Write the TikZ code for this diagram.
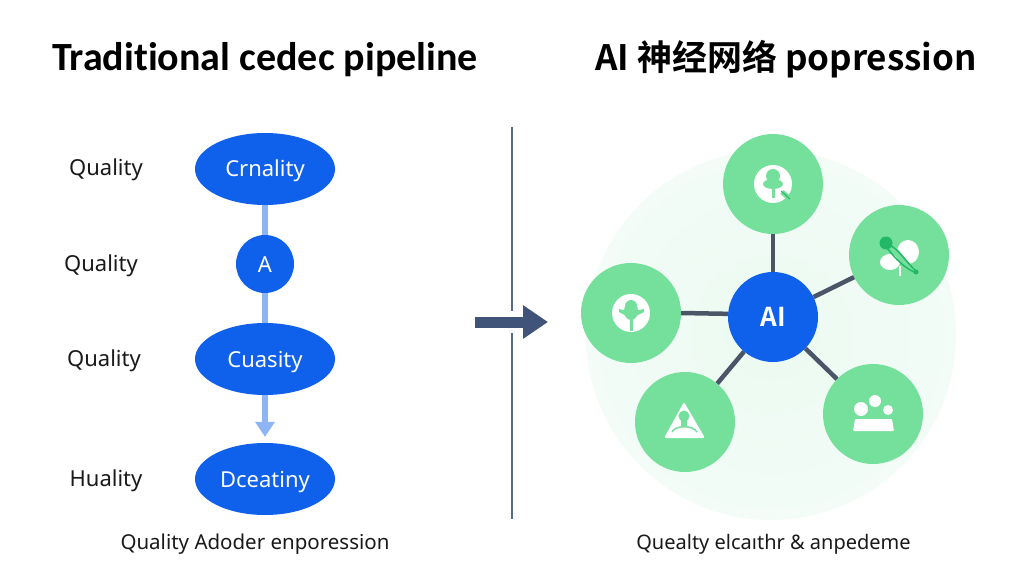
\documentclass[tikz,border=0pt]{standalone}
\usepackage{fontspec}
\setmainfont{Noto Sans}
\newfontfamily\cjktitle{Noto Sans CJK SC}[BoldFont={Noto Sans CJK SC Bold}]
\newfontfamily\lefthead{Carlito}[Ligatures=NoCommon]
\usetikzlibrary{shapes.geometric,arrows.meta}
\definecolor{nodeblue}{HTML}{0F60EA}
\definecolor{linkblue}{HTML}{8DB4F5}
\definecolor{leafgreen}{HTML}{74E09B}
\definecolor{darkgreen}{HTML}{22B868}
\definecolor{palegreen}{HTML}{EBFAF1}
\definecolor{paleedge}{HTML}{F3FCF7}
\definecolor{spokegray}{HTML}{4A5568}
\definecolor{rulegray}{HTML}{5A6A85}
\definecolor{arrowblue}{HTML}{3F5478}
\definecolor{inkblack}{HTML}{1A1A1A}
\tikzset{
  titletext/.style={text=black,inner sep=0pt},
  sidetext/.style={text=inkblack,font=\fontsize{22}{26}\selectfont,inner sep=0pt},
  captiontext/.style={text=inkblack,font=\fontsize{20.5}{25}\selectfont,inner sep=0pt},
  stageoval/.style={shape=ellipse,fill=nodeblue,text=white,minimum width=140pt,minimum height=72pt,inner sep=0pt,text height=16pt,text depth=0pt,font=\fontsize{22}{26}\selectfont},
  stagedot/.style={shape=circle,fill=nodeblue,text=white,minimum size=58pt,inner sep=0pt,text height=16pt,text depth=0pt,font=\fontsize{22}{26}\selectfont},
  hubdot/.style={shape=circle,fill=nodeblue,text=white,minimum size=90pt,inner sep=0pt,font=\fontsize{26}{30}\selectfont\cjktitle\bfseries},
  leafdot/.style={shape=circle,fill=leafgreen,minimum size=100pt,inner sep=0pt},
  stagelink/.style={draw=linkblue,line width=6.5pt},
  spoke/.style={draw=spokegray,line width=4.5pt},
  divider/.style={draw=rulegray,line width=2.5pt},
  bigarrow/.style={draw=arrowblue,line width=11pt,-{Triangle[length=25pt,width=32pt]}}
}
\begin{document}
\begin{tikzpicture}[x=1pt,y=-1pt]
\useasboundingbox (0,0) rectangle (1024,585);
\fill[white] (0,0) rectangle (1024,585);

\node[titletext,font=\fontsize{40}{46}\selectfont\lefthead\bfseries] (lefttitle) at (265,60) {Traditional cedec pipeline};
\node[titletext,font=\fontsize{35}{40}\selectfont\cjktitle\bfseries] (righttitle) at (786,59) {AI 神经网络 popression};

\node[sidetext] (q1) at (106,170) {Quality};
\node[sidetext] (q2) at (101,266) {Quality};
\node[sidetext] (q3) at (104,361) {Quality};
\node[sidetext] (q4) at (106,481) {Huality};

\node[stageoval] (crnality) at (265,169) {Crnality};
\node[stagedot] (a) at (265,264) {A};
\node[stageoval] (cuasity) at (265,359) {Cuasity};
\node[stageoval] (dceatiny) at (265,479) {Dceatiny};

\path [stagelink] (crnality) edge node {} (a);
\path [stagelink] (a) edge node {} (cuasity);
\draw [stagelink,-{Triangle[length=15pt,width=19pt]},shorten >=6pt] (cuasity) -- (dceatiny);

\node[captiontext] (leftcaption) at (255,544) {Quality Adoder enporession};
\node[captiontext,font=\fontsize{20}{25}\selectfont] (rightcaption) at (773.5,544) {Quealty elcaıthr \& anpedeme};

% divider with the arrow over it
\coordinate (ruletop) at (512,127);
\coordinate (rulemidtop) at (512,311);
\coordinate (rulemidbottom) at (512,333);
\coordinate (rulebottom) at (512,519);
\coordinate (arrowstart) at (475,322);
\coordinate (arrowend) at (548,322);
\path [divider] (ruletop) edge node {} (rulemidtop);
\path [divider] (rulemidbottom) edge node {} (rulebottom);
\draw [bigarrow] (arrowstart) -- (arrowend);

\shade[inner color=palegreen,outer color=paleedge] (771,335) circle (185);

\node[hubdot] (ai) at (773,317) {AI};
\node[leafdot] (leaf1) at (773,184) {};
\node[leafdot] (leaf2) at (899,255) {};
\node[leafdot] (leaf3) at (631,313) {};
\node[leafdot] (leaf4) at (685,422) {};
\node[leafdot] (leaf5) at (873,414) {};

\path [spoke] (ai) edge node {} (leaf1);
\path [spoke] (ai) edge node {} (leaf2);
\path [spoke] (ai.176) edge node {} (leaf3.east);
\path [spoke] (ai) edge node {} (leaf4);
\path [spoke] (ai) edge node {} (leaf5);

% icons
\fill[white] (773,184) circle (19);
\fill[leafgreen] (773,176) circle (7);
\fill[leafgreen] (773,184) ellipse (10 and 5);
\fill[leafgreen] (771.5,186) rectangle (774.5,198);
\draw[leafgreen,line width=5pt] (782,192) -- (790,199);
\draw[darkgreen,line width=1pt] (781,191) -- (790,199);

\fill[white] (908,252) ellipse (11 and 12);
\fill[white] (890,262) ellipse (10 and 8);
\fill[white] (899,266) rectangle (901,276);
\draw[leafgreen,line width=6pt] (888,245) .. controls (897,250) and (901,262) .. (915,271);
\draw[darkgreen,line width=1.5pt] (889,245) .. controls (899,249) and (904,260) .. (916,271);
\draw[darkgreen,line width=1.5pt] (887,248) .. controls (893,255) and (900,265) .. (914,272);
\fill[darkgreen] (886,243) circle (6.5);
\fill[darkgreen] (916,272) circle (2.5);

\fill[white] (631,313) circle (19);
\fill[leafgreen] (631,306) circle (6);
\fill[leafgreen] (631,311) ellipse (7 and 9);
\fill[leafgreen] (619,309) -- (628,311) -- (634,311) -- (644,309) -- (644,312) -- (634,317) -- (628,317) -- (619,312) -- cycle;
\fill[leafgreen] (629.5,318) rectangle (632.5,331);

\fill[white,rounded corners=2pt] (684,402) -- (705,438) -- (664,438) -- cycle;
\fill[leafgreen] (684,416) circle (5.5);
\fill[leafgreen] (681,420) rectangle (687,426);
\draw[leafgreen,line width=1.5pt] (672,432) .. controls (675,425) and (693,425) .. (697,432);

\fill[white] (861,409) circle (7);
\fill[white] (875,401) circle (6);
\fill[white] (888,410) circle (5);
\fill[white,rounded corners=1pt] (855,419) -- (892,419) -- (894,431) -- (853,431) -- cycle;
\end{tikzpicture}
\end{document}
